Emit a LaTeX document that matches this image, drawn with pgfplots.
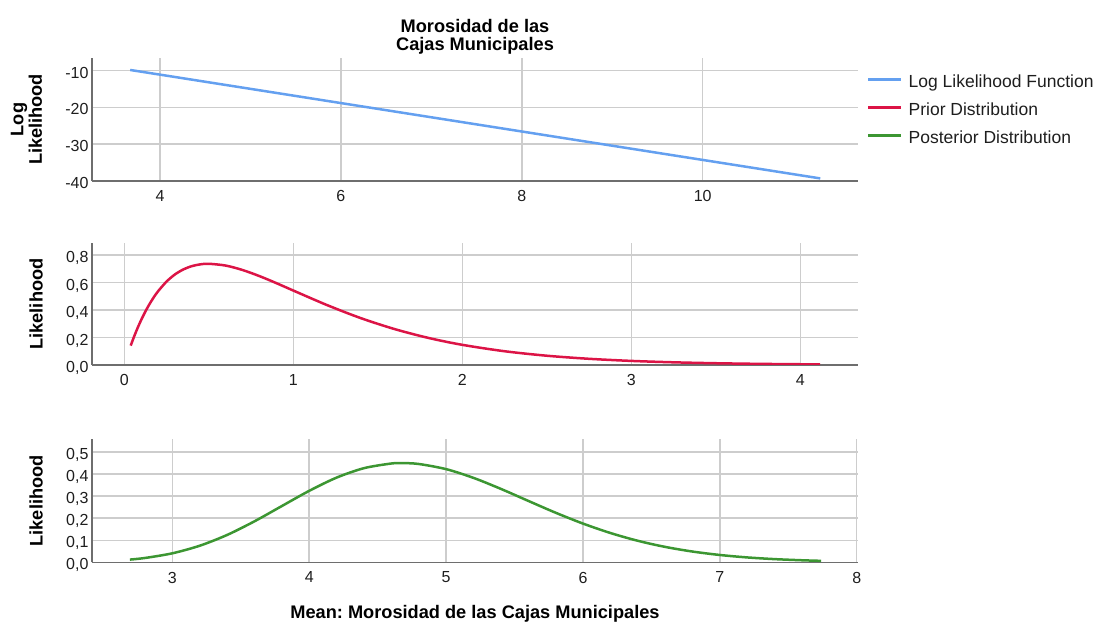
\documentclass[border=0pt]{standalone}
\usepackage{fontspec}
\setmainfont{Liberation Sans}
\usepackage{pgfplots}
\usepackage{pgfplotstable}
\pgfplotsset{compat=1.18}
\frenchspacing

\definecolor{llblue}{RGB}{100,160,240}
\definecolor{priorred}{RGB}{220,20,70}
\definecolor{postgreen}{RGB}{60,150,50}
\definecolor{gridgray}{RGB}{205,205,205}
\definecolor{axisgray}{RGB}{110,110,110}
\definecolor{txt}{RGB}{30,30,30}

\newcommand{\tickfont}{\fontsize{16}{18}\selectfont}
\newcommand{\legfont}{\fontsize{17.5}{20}\selectfont}
\newcommand{\labfont}{\fontsize{18.2}{18.5}\selectfont\bfseries}

\pgfplotsset{
  panel/.style={
    scale only axis, width=766pt,
    axis x line=bottom, axis y line=left,
    axis line style={-, axisgray, line width=1.5pt},
    major tick length=0pt,
    grid=major,
    major grid style={gridgray, line width=1.5pt},
    tick label style={font=\tickfont, text=txt},
    /pgf/number format/assume math mode=true,
    xticklabel style={yshift=-6pt},
    yticklabel style={yshift=-2pt, text depth=0pt},
    label style={font=\labfont, text=black},
  },
  decimals/.style={
    yticklabel style={/pgf/number format/.cd, fixed, fixed zerofill, precision=1, use comma},
  },
}

% prior density on the mean
\pgfplotstableread{
x y
0.038 0.1409
0.06 0.2129
0.08 0.2727
0.10 0.3275
0.125 0.3894
0.15 0.4445
0.175 0.4933
0.20 0.5363
0.25 0.6065
0.30 0.6586
0.35 0.6952
0.40 0.7189
0.45 0.7318
0.50 0.7358
0.60 0.7229
0.70 0.6905
0.80 0.6461
0.90 0.5951
1.00 0.5413
1.20 0.4354
1.40 0.3405
1.60 0.2609
1.80 0.1967
2.00 0.1465
2.25 0.1000
2.50 0.0674
2.75 0.0450
3.00 0.0297
3.25 0.0195
3.50 0.0128
3.75 0.0083
4.00 0.0054
4.117 0.0044
}\priortab

% posterior density on the mean
\pgfplotstableread{
x y
2.69 0.0123
2.80 0.0196
3.00 0.0408
3.20 0.0752
3.40 0.1240
3.60 0.1859
3.80 0.2552
4.00 0.3242
4.20 0.3842
4.40 0.4270
4.60 0.4482
4.68 0.4500
4.80 0.4460
5.00 0.4227
5.20 0.3830
5.40 0.3331
5.60 0.2787
5.80 0.2250
6.00 0.1757
6.20 0.1330
6.40 0.0977
6.60 0.0699
6.80 0.0488
7.00 0.0332
7.20 0.0221
7.40 0.0144
7.60 0.0092
7.74 0.0066
}\posttab

\begin{document}
\begin{tikzpicture}[x=1pt,y=1pt]

% top panel: log likelihood
\begin{axis}[panel,
  at={(92pt,445pt)}, anchor=south west, height=123pt,
  xmin=3.248, xmax=11.717, ymin=-40, ymax=-6.6,
  xtick={4,6,8,10}, ytick={-40,-30,-20,-10},
  ylabel={Log\\Likelihood},
  ylabel style={align=center, at={(axis description cs:-0.0855,0.5)}, anchor=center},
  title={Morosidad de las\\Cajas Municipales},
  title style={align=center, font=\labfont, at={(axis description cs:0.5,1)}, anchor=south, inner sep=0pt, yshift=-2.8pt},
  legend style={at={(axis description cs:1.0117,0.861)}, anchor=north west,
    draw=none, fill=none, inner sep=0pt, column sep=6pt, row sep=11.7pt,
    nodes={inner sep=0pt, text height=12.6pt, text depth=3.7pt, font=\legfont, text=txt}},
  legend cell align=left,
  legend image code/.code={\draw[#1] (0pt,4pt) -- (33pt,4pt);},
]
\addplot[llblue, line width=2.5pt] coordinates {
  (3.67,-9.85) (4,-11.12) (6,-18.84) (8,-26.56) (10,-34.28) (11.3,-39.30)};
\addlegendentry{Log Likelihood Function}
\addlegendimage{priorred, line width=2.5pt}
\addlegendentry{Prior Distribution}
\addlegendimage{postgreen, line width=2.5pt}
\addlegendentry{Posterior Distribution}
\end{axis}

% middle panel: prior
\begin{axis}[panel, decimals,
  at={(92pt,261pt)}, anchor=south west, height=122pt,
  xmin=-0.191, xmax=4.341, ymin=0, ymax=0.887,
  xtick={0,1,2,3,4}, ytick={0,0.2,0.4,0.6,0.8},
  ylabel={Likelihood},
  ylabel style={at={(axis description cs:-0.0731,0.5)}, anchor=center},
]
\addplot[priorred, line width=2.5pt, smooth] table[x=x,y=y] {\priortab};
\end{axis}

% bottom panel: posterior
\begin{axis}[panel, decimals,
  at={(92pt,63.7pt)}, anchor=south west, height=123pt,
  xmin=2.413, xmax=8.0095, ymin=0, ymax=0.558,
  xtick={3,4,5,6,7,8}, ytick={0,0.1,0.2,0.3,0.4,0.5},
  ylabel={Likelihood},
  ylabel style={at={(axis description cs:-0.0731,0.5)}, anchor=center},
  xlabel={Mean: Morosidad de las Cajas Municipales},
  xlabel style={at={(axis description cs:0.5,0)}, anchor=base, yshift=-56pt},
]
\addplot[postgreen, line width=2.5pt, smooth] table[x=x,y=y] {\posttab};
\end{axis}

\pgfresetboundingbox
\path[use as bounding box] (0,0) rectangle (1097pt,626pt);
\end{tikzpicture}
\end{document}
